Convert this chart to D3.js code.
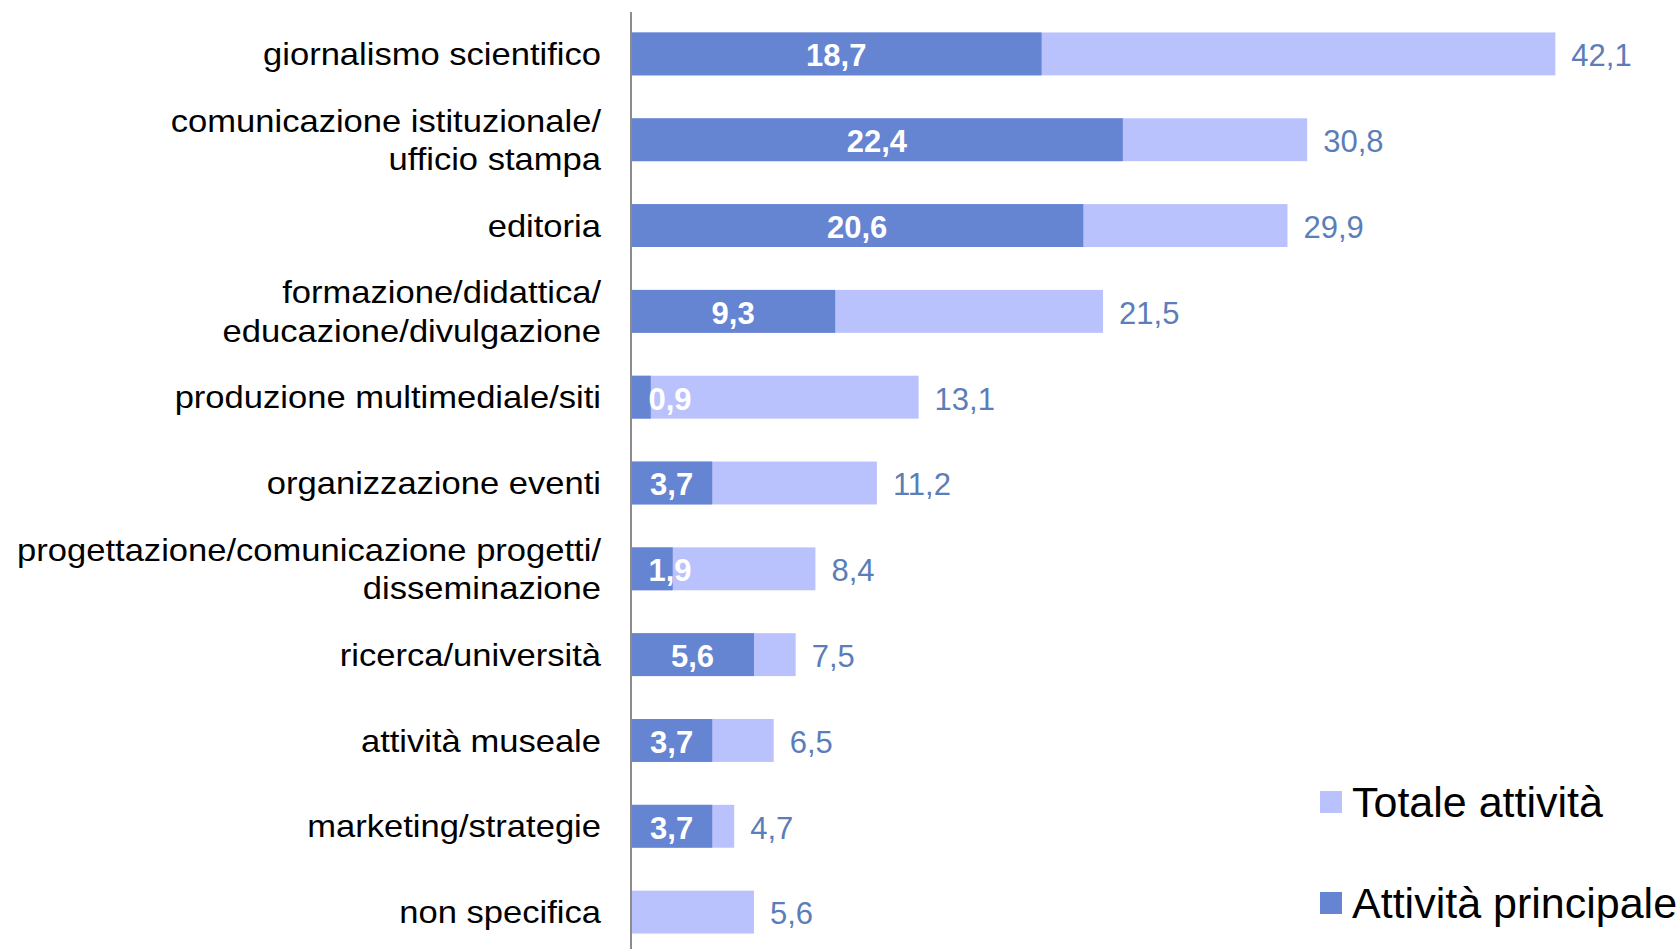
<!DOCTYPE html>
<html>
<head>
<meta charset="utf-8">
<script src="https://cdn.jsdelivr.net/npm/d3@7"></script>
<style>
  body { margin: 0; background: #fff; }
  svg { display: block; font-family: "Liberation Sans", Arial, sans-serif; }
</style>
</head>
<body>
<svg id="chart" width="1677" height="949"></svg>
<script>
// categories, top to bottom (each entry = lines of the label)
const categories = [
  ["giornalismo scientifico"],
  ["comunicazione istituzionale/", "ufficio stampa"],
  ["editoria"],
  ["formazione/didattica/", "educazione/divulgazione"],
  ["produzione multimediale/siti"],
  ["organizzazione eventi"],
  ["progettazione/comunicazione progetti/", "disseminazione"],
  ["ricerca/università"],
  ["attività museale"],
  ["marketing/strategie"],
  ["non specifica"]
];
const totale = [42.1, 30.8, 29.9, 21.5, 13.1, 11.2, 8.4, 7.5, 6.5, 4.7, 5.6];
const principale = [18.7, 22.4, 20.6, 9.3, 0.9, 3.7, 1.9, 5.6, 3.7, 3.7, null];
const seriesNames = ["Totale attività", "Attività principale"];

const colLight = "#b9c2fd";
const colDark = "#6584d2";
const colLabel = "#5b7db8";

const it = d3.formatLocale({ decimal: ",", thousands: ".", grouping: [3], currency: ["€", ""] });
const fmt = it.format(".1f");

const svg = d3.select("#chart");
const idx = d3.range(categories.length);

const x = d3.scaleLinear().domain([0, 45]).range([631, 1619]);
const y = d3.scaleBand().domain(idx).range([11, 955]).paddingInner(0.5).paddingOuter(0.25);
const mid = i => y(i) + y.bandwidth() / 2;

// light bars (total)
svg.append("g").selectAll("rect")
  .data(idx).enter().append("rect")
  .attr("x", x(0))
  .attr("y", i => y(i))
  .attr("width", i => x(totale[i]) - x(0))
  .attr("height", y.bandwidth())
  .attr("fill", colLight);

// dark bars (main activity)
const mainIdx = idx.filter(i => principale[i] != null);
svg.append("g").selectAll("rect")
  .data(mainIdx).enter().append("rect")
  .attr("x", x(0))
  .attr("y", i => y(i))
  .attr("width", i => x(principale[i]) - x(0))
  .attr("height", y.bandwidth())
  .attr("fill", colDark);

// axis line
svg.append("line")
  .attr("x1", x(0)).attr("x2", x(0))
  .attr("y1", 12).attr("y2", 949)
  .attr("stroke", "#8c8c8c").attr("stroke-width", 2);

// total labels
svg.append("g").selectAll("text")
  .data(idx).enter().append("text")
  .attr("x", i => x(totale[i]) + 16)
  .attr("y", mid)
  .attr("dy", "0.4em")
  .attr("fill", colLabel)
  .style("font-size", "31px")
  .text(i => fmt(totale[i]));

// main labels (inside, white bold)
svg.append("g").selectAll("text")
  .data(mainIdx).enter().append("text")
  .attr("x", i => Math.max(x(principale[i] / 2), x(0) + 39))
  .attr("y", mid)
  .attr("dy", "0.4em")
  .attr("text-anchor", "middle")
  .attr("fill", "#fff")
  .style("font-size", "31px")
  .style("font-weight", "bold")
  .text(i => fmt(principale[i]));

// category labels (source text is slightly stretched horizontally)
const catG = svg.append("g")
  .attr("transform", "translate(601,0) scale(1.08,1)");
const cat = catG.selectAll("text")
  .data(idx).enter().append("text")
  .attr("text-anchor", "end")
  .attr("fill", "#000")
  .style("font-size", "32px");
cat.each(function (i) {
  const lines = categories[i];
  d3.select(this).selectAll("tspan")
    .data(lines).enter().append("tspan")
    .attr("x", 0)
    .attr("y", (d, k) => mid(i) + (k - (lines.length - 1) / 2) * 38.5)
    .attr("dy", "0.35em")
    .text(d => d);
});

// legend
const legend = svg.append("g").selectAll("g")
  .data(seriesNames).enter().append("g")
  .attr("transform", (d, k) => `translate(1320, ${791 + k * 101})`);
legend.append("rect")
  .attr("width", 22).attr("height", 22)
  .attr("fill", (d, k) => k === 0 ? colLight : colDark);
legend.append("text")
  .attr("x", 32).attr("y", 11)
  .attr("dy", "0.36em")
  .style("font-size", "43px")
  .attr("fill", "#000")
  .text(d => d);
</script>
</body>
</html>
